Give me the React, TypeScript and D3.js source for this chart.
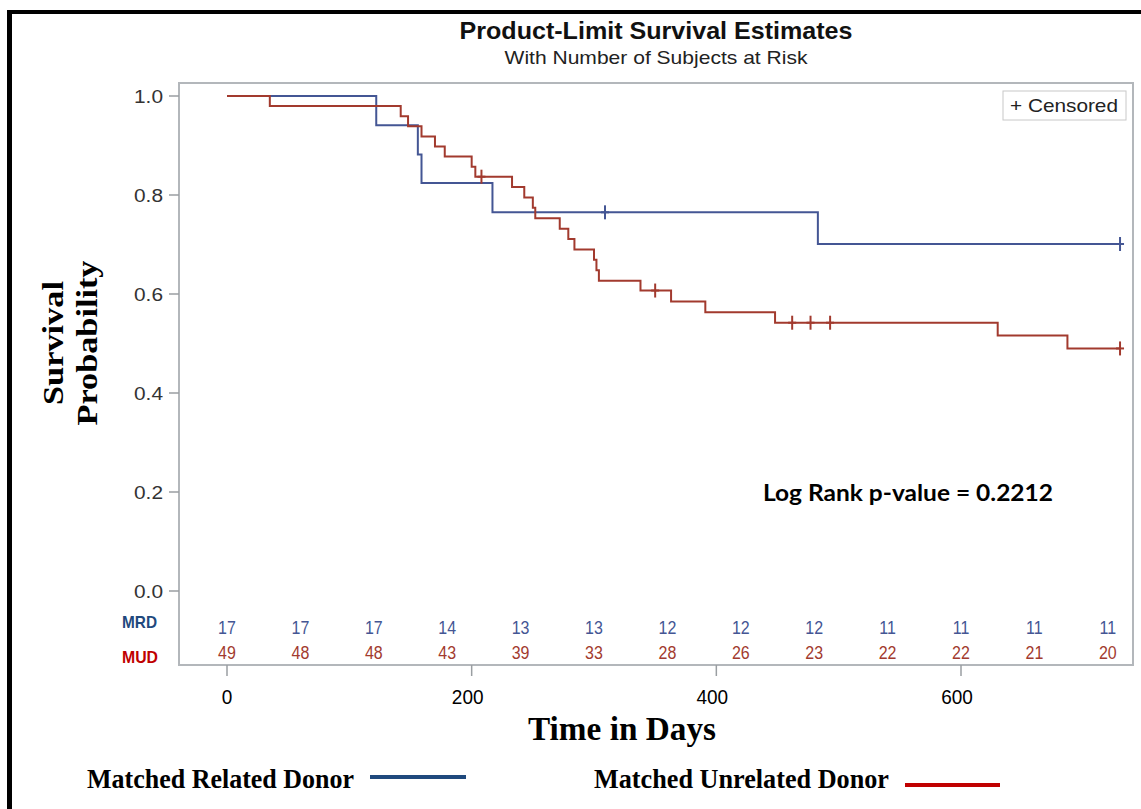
import React from "react";
import * as d3 from "d3";

const mrdTimes = [0, 122, 156, 159, 217, 483];
const mrdSurv = [1.0, 0.941, 0.882, 0.824, 0.765, 0.701];
const mrdCensorTimes = [309, 730];

const mudTimes = [0, 35, 142, 148, 159, 170, 178, 200, 203, 233, 243, 250, 252, 272, 279, 284, 300, 302, 304, 338, 363, 391, 448, 630, 687];
const mudSurv = [1.0, 0.98, 0.959, 0.939, 0.918, 0.898, 0.878, 0.857, 0.837, 0.816, 0.795, 0.774, 0.753, 0.732, 0.711, 0.69, 0.669, 0.648, 0.627, 0.607, 0.585, 0.563, 0.542, 0.516, 0.49];
const mudCensorTimes = [208, 350, 462, 477, 493, 730];

const endTime = 730;

const atRiskTimes = [0, 60, 120, 180, 240, 300, 360, 420, 480, 540, 600, 660, 720];
const mrdAtRisk = [17, 17, 17, 14, 13, 13, 12, 12, 12, 11, 11, 11, 11];
const mudAtRisk = [49, 48, 48, 43, 39, 33, 28, 26, 23, 22, 22, 21, 20];

const xTicks = [0, 200, 400, 600];
const yTicks = [0, 0.2, 0.4, 0.6, 0.8, 1.0];

const BLUE = "#445694";
const RED = "#a23a2e";

const SANS = "'Liberation Sans', Arial, sans-serif";
const SERIF = "'Liberation Serif', 'Times New Roman', serif";

const x = d3.scaleLinear().domain([0, 600]).range([227, 961]);
const y = d3.scaleLinear().domain([0, 1]).range([591, 96]);

function survAt(times: number[], surv: number[], t: number) {
  let v = surv[0];
  for (let i = 0; i < times.length; i++) if (times[i] <= t) v = surv[i];
  return v;
}

function stepPath(times: number[], surv: number[]) {
  const pts: [number, number][] = times.map((t, i) => [t, surv[i]]);
  pts.push([endTime, surv[surv.length - 1]]);
  const line = d3
    .line<[number, number]>()
    .x((d) => x(d[0]))
    .y((d) => y(d[1]))
    .curve(d3.curveStepAfter);
  return line(pts) || "";
}

type TP = {
  x: number;
  y: number;
  text: string;
  size: number;
  weight?: string | number;
  family?: string;
  anchor?: "start" | "middle" | "end";
  fill?: string;
  width?: number;
  sy?: number;
  rotate?: number;
};

function T({ x, y, text, size, weight = "normal", family = SANS, anchor = "start", fill = "#000", width, sy = 1, rotate = 0 }: TP) {
  return (
    <g transform={`translate(${x},${y}) rotate(${rotate}) scale(1,${sy})`}>
      <text
        x={0}
        y={0}
        fontSize={size}
        fontWeight={weight}
        fontFamily={family}
        textAnchor={anchor}
        fill={fill}
        {...(width ? { textLength: width, lengthAdjust: "spacingAndGlyphs" } : {})}
      >
        {text}
      </text>
    </g>
  );
}

function Censor({ cx, cy, color }: { cx: number; cy: number; color: string }) {
  return (
    <g stroke={color} strokeWidth={2}>
      <line x1={cx} x2={cx} y1={cy - 7} y2={cy + 7} />
      <line x1={cx - 4} x2={cx + 4} y1={cy} y2={cy} />
    </g>
  );
}

export default function App() {
  return (
    <div style={{ position: "absolute", left: 0, top: 0 }}>
      <svg width={1141} height={809} style={{ display: "block", background: "#fff" }}>
        <rect x={0} y={0} width={1141} height={809} fill="#fff" />
        {/* outer black frame */}
        <line x1={9.5} x2={9.5} y1={10} y2={809} stroke="#000" strokeWidth={5} />
        <line x1={7} x2={1141} y1={12} y2={12} stroke="#000" strokeWidth={4} />

        {/* titles */}
        <T x={656} y={39} text="Product-Limit Survival Estimates" size={20} weight="bold" anchor="middle" width={393} sy={1.2} fill="#111" />
        <T x={656} y={64} text="With Number of Subjects at Risk" size={16} anchor="middle" width={303} sy={1.15} fill="#222" />

        {/* plot frame */}
        <rect x={179} y={83} width={954} height={582} fill="none" stroke="#b3b7bb" strokeWidth={2} />

        {/* y axis */}
        {yTicks.map((t) => (
          <g key={"yt" + t}>
            <line x1={169} x2={179} y1={y(t)} y2={y(t)} stroke="#9a9ea2" strokeWidth={1.5} />
            <T x={163} y={y(t) + 6.5} text={t.toFixed(1)} size={18} anchor="end" fill="#333" width={29} sy={1.05} />
          </g>
        ))}

        {/* x axis */}
        {xTicks.map((t) => (
          <g key={"xt" + t}>
            <line x1={x(t)} x2={x(t)} y1={665} y2={676} stroke="#9a9ea2" strokeWidth={1.5} />
            <T x={x(t) - (t > 0 ? 4 : 0)} y={704} text={String(t)} size={19} anchor="middle" fill="#000" sy={1.1} />
          </g>
        ))}

        {/* curves */}
        <path d={stepPath(mrdTimes, mrdSurv)} fill="none" stroke={BLUE} strokeWidth={2} />
        <path d={stepPath(mudTimes, mudSurv)} fill="none" stroke={RED} strokeWidth={2} />
        {mrdCensorTimes.map((t, i) => (
          <Censor key={"mc" + i} cx={x(t)} cy={y(survAt(mrdTimes, mrdSurv, t))} color={BLUE} />
        ))}
        {mudCensorTimes.map((t, i) => (
          <Censor key={"uc" + i} cx={x(t)} cy={y(survAt(mudTimes, mudSurv, t))} color={RED} />
        ))}

        {/* censored legend */}
        <rect x={1003} y={91} width={123} height={29} fill="#fff" stroke="#c8c8c8" strokeWidth={1} />
        <T x={1010} y={112} text="+ Censored" size={17} fill="#222" width={108} sy={1.1} />

        {/* log rank */}
        <T x={763} y={501} text="Log Rank p-value = 0.2212" size={20} weight="bold" family="Lato, 'Open Sans', sans-serif" width={290} fill="#000" sy={1.1} />

        {/* at risk table */}
        <T x={122} y={628} text="MRD" size={15} weight="bold" fill="#1f497d" width={35} sy={1.1} />
        <T x={122} y={663} text="MUD" size={15} weight="bold" fill="#c00000" width={36} sy={1.1} />
        {atRiskTimes.map((t, i) => (
          <g key={"ar" + t}>
            <T x={x(t)} y={634} text={String(mrdAtRisk[i])} size={16} anchor="middle" fill={BLUE} sy={1.1} />
            <T x={x(t)} y={659} text={String(mudAtRisk[i])} size={16} anchor="middle" fill={RED} sy={1.1} />
          </g>
        ))}

        {/* axis titles */}
        <T x={622} y={740} text="Time in Days" size={32} weight="bold" family={SERIF} anchor="middle" width={188} sy={1.05} />
        <T x={63} y={343} text="Survival" size={29} weight="bold" family={SERIF} anchor="middle" rotate={-90} width={124} />
        <T x={97} y={343} text="Probability" size={29} weight="bold" family={SERIF} anchor="middle" rotate={-90} width={165} />

        {/* bottom legend */}
        <T x={87} y={788} text="Matched Related Donor" size={23} weight="bold" family={SERIF} width={267} sy={1.15} />
        <line x1={370} x2={466} y1={777} y2={777} stroke="#1f497d" strokeWidth={4} />
        <T x={594} y={788} text="Matched Unrelated Donor" size={23} weight="bold" family={SERIF} width={295} sy={1.15} />
        <line x1={905} x2={1000} y1={785} y2={785} stroke="#c00000" strokeWidth={4} />
      </svg>
    </div>
  );
}
